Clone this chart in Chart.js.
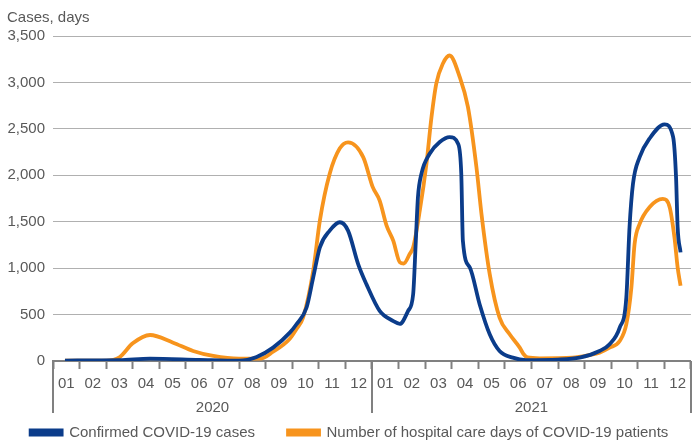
<!DOCTYPE html>
<html lang="en">
<head>
    <meta charset="UTF-8">
    <title>COVID-19 cases and hospital care days</title>
    <script src="https://cdn.jsdelivr.net/npm/chart.js"></script>
</head>
<style>
    body { margin: 0; background: #fff; }
    #wrap { width: 692px; height: 440px; }
</style>
<body>
<div id="wrap">
    <canvas id="covidChart"></canvas>
</div>
<script>
    // month labels (2020 then 2021) and year labels
    var months = ['01','02','03','04','05','06','07','08','09','10','11','12',
                  '01','02','03','04','05','06','07','08','09','10','11','12'];
    var years = ['2020', '2021'];
    var yTicks = [0, 500, 1000, 1500, 2000, 2500, 3000, 3500];

    // x = position in months from start of 2020 (0.5 = middle of Jan 2020)
    var casesX = [0.45,2.5,3.65,5.5,7.0,7.66,8.28,8.91,9.16,9.54,9.79,10.04,10.41,10.79,11.1,11.48,11.79,
                  12.29,12.79,13.05,13.36,13.55,13.65,13.73,13.86,14.17,14.55,14.92,15.24,15.36,15.42,15.68,
                  16.05,16.43,16.8,17.3,17.8,19.0,19.81,20.56,20.94,21.32,21.57,21.69,21.82,22.07,22.44,
                  23.01,23.33,23.44,23.5,23.61];
    var casesY = [5,8,25,12,3,43,144,306,396,576,900,1224,1404,1494,1404,1044,828,
                  540,432,400,540,720,1296,1764,2016,2232,2358,2412,2340,2016,1296,1008,
                  612,288,108,36,10,15,36,108,180,360,684,1440,1908,2196,2394,
                  2549,2412,1980,1440,1170];

    var hospX = [0.45,2.0,2.5,3.0,3.65,4.5,5.27,6.03,7.0,7.8,8.28,8.91,9.16,9.41,9.79,10.04,10.41,10.79,11.1,11.67,
                 12.03,12.29,12.55,12.8,13.05,13.2,13.42,13.55,13.8,14.05,14.24,14.42,14.67,14.92,15.3,15.61,15.93,
                 16.12,16.43,16.8,17.18,17.56,17.7,17.85,18.31,19.55,20.19,20.56,20.94,21.32,21.57,21.76,21.88,22.07,
                 22.44,22.94,23.2,23.38,23.5,23.61];
    var hospY = [5,5,40,190,280,200,108,54,25,25,100,240,345,468,972,1512,2016,2290,2355,2196,
                 1872,1728,1458,1296,1062,1050,1152,1224,1620,2124,2628,2988,3204,3290,3060,2736,2088,
                 1584,936,468,288,144,75,38,29,36,65,90,144,216,396,792,1260,1476,
                 1656,1746,1656,1332,1008,810];

    function toPoints(xs, ys) {
        var pts = [];
        for (var i = 0; i < xs.length; i++) pts.push({x: xs[i], y: ys[i]});
        return pts;
    }

    var grey = '#595959';
    var axisGrey = '#808080';
    var font = {family: "'Liberation Sans', Arial, sans-serif", size: 15};

    // long separator lines between the years (below the axis line)
    var yearLines = {
        id: 'yearLines',
        afterDraw: function (chart) {
            var xl = chart.scales.xl;
            var yr = chart.scales.year;
            var ctx = chart.ctx;
            ctx.save();
            ctx.strokeStyle = axisGrey;
            ctx.lineWidth = 2;
            [0, 12, 24].forEach(function (v) {
                var px = Math.round(xl.getPixelForValue(v));
                ctx.beginPath();
                ctx.moveTo(px, chart.chartArea.bottom);
                ctx.lineTo(px, yr.bottom - 4);
                ctx.stroke();
            });
            ctx.restore();
        }
    };

    var covidChart = new Chart(document.getElementById('covidChart').getContext('2d'), {
        type: 'line',
        data: {
            datasets: [{
                label: 'Confirmed COVID-19 cases',
                data: toPoints(casesX, casesY),
                xAxisID: 'xl',
                borderColor: '#0B3C8A',
                backgroundColor: '#0B3C8A',
                borderWidth: 3.8,
                pointRadius: 0,
                cubicInterpolationMode: 'monotone'
            }, {
                label: 'Number of hospital care days of COVID-19 patients',
                data: toPoints(hospX, hospY),
                xAxisID: 'xl',
                borderColor: '#F7941D',
                backgroundColor: '#F7941D',
                borderWidth: 3.8,
                pointRadius: 0,
                cubicInterpolationMode: 'monotone'
            }]
        },
        options: {
            responsive: true,
            maintainAspectRatio: false,
            animation: false,
            layout: { padding: {left: 7, right: 0, top: 7, bottom: -10} },
            plugins: {
                title: {
                    display: true,
                    text: 'Cases, days',
                    align: 'start',
                    color: grey,
                    font: {family: font.family, size: 15, weight: 'normal'},
                    padding: {top: 2, bottom: 9}
                },
                legend: {
                    position: 'bottom',
                    labels: {
                        boxWidth: 31,
                        boxHeight: 4,
                        padding: 8,
                        color: grey,
                        font: font,
                        generateLabels: function (chart) {
                            var items = Chart.defaults.plugins.legend.labels.generateLabels(chart);
                            items[0].text += '      '; // wider gap between the two entries
                            return items;
                        }
                    }
                },
                tooltip: { enabled: false }
            },
            scales: {
                xl: {
                    type: 'linear',
                    min: 0,
                    max: 24,
                    display: false
                },
                x: {
                    type: 'category',
                    labels: months,
                    position: 'bottom',
                    offset: true,
                    grid: {
                        offset: true,
                        drawOnChartArea: false,
                        tickLength: 8,
                        tickColor: axisGrey,
                        tickWidth: 2
                    },
                    border: { color: axisGrey, width: 2 },
                    ticks: { color: grey, font: font, padding: 6, maxRotation: 0, autoSkip: false }
                },
                year: {
                    type: 'category',
                    labels: years,
                    position: 'bottom',
                    offset: true,
                    grid: { display: false, drawTicks: false },
                    border: { display: false },
                    ticks: { color: grey, font: font, padding: 0 }
                },
                y: {
                    min: 0,
                    max: 3500,
                    afterBuildTicks: function (scale) {
                        scale.ticks = yTicks.map(function (v) { return {value: v}; });
                    },
                    afterFit: function (scale) { scale.width = 46; },
                    grid: { color: '#b0b0b0', lineWidth: 1, drawTicks: false },
                    border: { display: false },
                    ticks: { color: grey, font: font, padding: 8 }
                }
            }
        },
        plugins: [yearLines]
    });
</script>
</body>
</html>
